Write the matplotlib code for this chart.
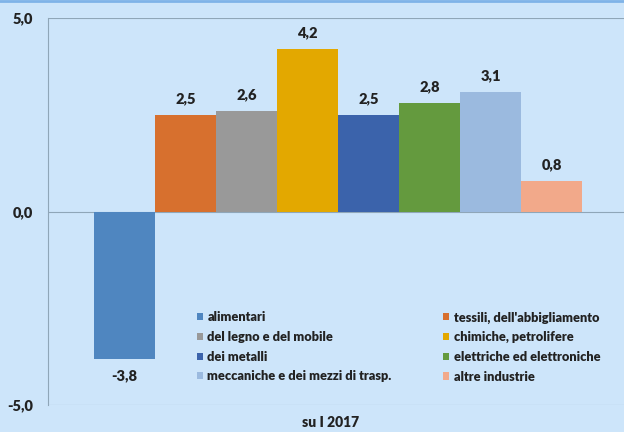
import matplotlib
matplotlib.use("Agg")
import matplotlib.pyplot as plt
from matplotlib.patches import Patch
from matplotlib.lines import Line2D

plt.rcParams['font.family'] = ['Lato', 'DejaVu Sans']

# data
settori = ['alimentari', "tessili, dell'abbigliamento", 'del legno e del mobile',
           'chimiche, petrolifere', 'dei metalli', 'elettriche ed elettroniche',
           'meccaniche e dei mezzi di trasp.', 'altre industrie']
valori = [-3.8, 2.5, 2.6, 4.2, 2.5, 2.8, 3.1, 0.8]
colori = ['#4f86c0', '#d7702e', '#999999', '#e3a800', '#3b63ab', '#649a3e',
          '#9bbadf', '#f2a98a']
yticks = [-5, 0, 5]
periodo = 'su I 2017'

bg = '#cde5fa'
fig = plt.figure(figsize=(6.24, 4.32), dpi=100, facecolor=bg)
ax = fig.add_axes([48 / 624, 1 - 405 / 432, 1 - 48 / 624, (405 - 18) / 432])
ax.set_facecolor(bg)

pos = list(range(len(valori)))
bars = ax.bar(pos, valori, width=1.0, color=colori, zorder=3)

ax.set_ylim(-5, 5)
ax.set_xlim(-0.5 - 46 / 61, 7.5 + 42 / 61)
ax.set_yticks(yticks)
ax.set_yticklabels([f'{v:.1f}'.replace('.', ',') for v in yticks],
                   fontsize=10.5, fontweight='heavy', color='#222222')
ax.tick_params(axis='y', length=0, pad=11)
ax.set_xticks([])
for s in ['top', 'right', 'bottom']:
    ax.spines[s].set_visible(False)
ax.spines['left'].set_color('#8fa6b8')
ax.spines['left'].set_linewidth(0.8)
for y in yticks:
    ax.axhline(y, color='#8fa6b8', lw=0.8, zorder=2)

# etichette valori
for p, v in zip(pos, valori):
    txt = f'{v:.1f}'.replace('.', ',')
    if v >= 0:
        ax.annotate(txt, (p, v), xytext=(0, 7), textcoords='offset points',
                    ha='center', va='bottom', fontsize=10.5, fontweight='heavy',
                    color='#222222')
    else:
        ax.annotate(txt, (p, v), xytext=(0, -8), textcoords='offset points',
                    ha='center', va='top', fontsize=10.5, fontweight='heavy',
                    color='#222222')

# legenda: ordine per righe
handles = [Patch(facecolor=c, edgecolor='none') for c in colori]
ordine = [0, 2, 4, 6, 1, 3, 5, 7]
leg = ax.legend([handles[i] for i in ordine], [settori[i] for i in ordine],
                ncol=2, loc='lower left', bbox_to_anchor=(0.238, 0.028),
                frameon=False, handlelength=0.5, handleheight=0.5,
                handletextpad=0.35, columnspacing=4.0, labelspacing=0.6,
                prop={'size': 9.2, 'weight': 'heavy'})
for t in leg.get_texts():
    t.set_color('#222222')

fig.text(0.53, 0.022, periodo, ha='center', va='center', fontsize=10,
         fontweight='heavy', color='#222222')

# bordo superiore
fig.add_artist(Line2D([0, 1], [0.997, 0.997], transform=fig.transFigure,
                      color='#7fb3e8', lw=2))

fig.savefig('out.png', dpi=100, facecolor=bg)
